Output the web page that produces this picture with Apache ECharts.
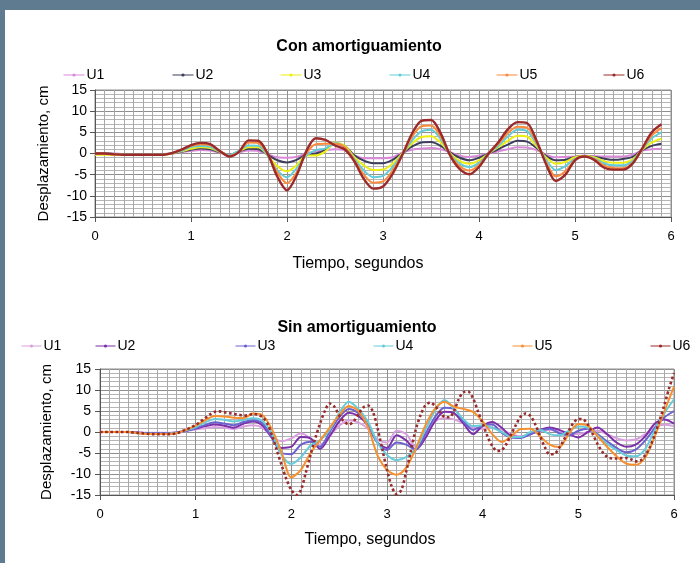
<!DOCTYPE html>
<html>
<head>
<meta charset="utf-8">
<script src="https://cdn.jsdelivr.net/npm/echarts@6/dist/echarts.min.js"></script>
<style>
html,body{margin:0;padding:0;background:#fff;}
#chart{width:700px;height:563px;}
</style>
</head>
<body>
<div id="chart"></div>
<script>
// ---- Data ----
const seriesNames = ['U1','U2','U3','U4','U5','U6'];
const yTicks = [-15,-10,-5,0,5,10,15];
const xTicks = [0,1,2,3,4,5,6];

// "Con amortiguamiento" (time step 0.1 s)
const timeCon = [0,0.1,0.2,0.3,0.4,0.5,0.6,0.7,0.8,0.9,1.0,1.1,1.2,1.3,1.4,1.5,1.6,1.7,1.8,1.9,2.0,2.1,2.2,2.3,2.4,2.5,2.6,2.7,2.8,2.9,3.0,3.1,3.2,3.3,3.4,3.5,3.6,3.7,3.8,3.9,4.0,4.1,4.2,4.3,4.4,4.5,4.6,4.7,4.8,4.9,5.0,5.1,5.2,5.3,5.4,5.5,5.6,5.7,5.8,5.9];
const conU1 = [0,0,0,-0.1,-0.1,-0.1,-0.1,-0.1,0.0,0.3, 0.6,0.8,0.7,0.2,-0.2,0.3,0.7,0.6,-0.2,-0.9, -1.0,-0.8,0.0,0.5,0.8,1.0,0.8,-0.4,-1.1,-1.1, -1.1,-0.9,0.2,0.9,1.2,1.3,1.0,0.3,-0.5,-0.8, -0.5,0.0,0.5,1.0,1.5,1.4,0.8,-0.3,-0.9,-0.8, -0.7,-0.5,-0.6,-0.7,-0.7,-0.7,-0.3,0.7,1.0,1.1];
const conU2 = [0,0,-0.1,-0.2,-0.2,-0.2,-0.2,-0.2,0.0,0.4, 0.9,1.2,1.0,0.3,-0.3,0.5,1.1,1.0,-0.3,-1.6, -2.1,-1.5,-0.3,0.0,0.8,2.4,1.8,-0.4,-1.7,-2.3, -2.3,-1.5,0.0,1.6,2.6,2.7,1.8,0.2,-1.0,-1.6, -1.0,0.0,1.0,2.1,3.0,2.8,1.3,-0.6,-1.6,-1.5, -0.8,-0.6,-0.8,-1.2,-1.5,-1.3,-0.8,0.8,1.8,2.3];
const conU3 = [-0.3,-0.3,-0.3,-0.3,-0.3,-0.3,-0.3,-0.3,0.0,0.5, 1.1,1.5,1.3,0.4,-0.4,0.5,1.5,1.5,-0.5,-3.0, -4.2,-2.8,-0.5,-0.5,0.5,2.6,1.8,-0.8,-2.8,-3.9, -3.8,-2.4,0.0,2.3,3.9,4.1,2.6,0.0,-1.8,-2.4, -1.6,0.0,1.5,3.0,4.2,4.0,1.7,-1.0,-2.4,-2.0, -0.9,-0.6,-0.9,-1.8,-2.2,-2.2,-1.4,0.9,2.6,3.5];
const conU4 = [0,0,-0.1,-0.2,-0.2,-0.2,-0.2,-0.2,0.1,0.6, 1.5,1.8,1.6,0.5,-0.4,0.7,1.9,1.8,-0.5,-4.0, -5.6,-3.5,-0.5,0.8,1.2,2.5,1.5,-1.2,-4.0,-5.6, -5.3,-3.2,-0.2,3.0,5.2,5.6,3.4,-0.2,-2.4,-3.2, -2.2,0.0,1.8,4.0,5.6,5.3,2.2,-1.5,-3.9,-3.0, -1.2,-0.7,-1.1,-2.3,-2.8,-2.8,-1.8,0.9,3.6,5.0];
const conU5 = [0,0,-0.2,-0.3,-0.3,-0.3,-0.3,-0.3,0.1,0.8, 1.8,2.2,2.0,0.6,-0.6,0.4,2.6,2.5,-0.2,-4.5, -7.0,-4.5,0.0,2.2,2.3,2.3,1.5,-1.5,-5.0,-6.9, -6.6,-4.0,-0.3,3.8,6.4,6.6,4.0,-0.3,-3.0,-4.0, -2.7,0.0,2.2,4.8,6.3,6.1,2.6,-2.1,-5.4,-4.2, -1.4,-0.7,-1.3,-2.8,-3.4,-3.5,-2.2,1.0,4.3,6.0];
const conU6 = [0,0,-0.2,-0.3,-0.3,-0.3,-0.3,-0.3,0.1,0.9, 2.0,2.5,2.2,0.6,-0.7,0.4,3.1,3.0,-0.1,-5.5, -8.7,-5.2,0.5,3.6,3.2,1.9,1.0,-1.8,-6.0,-8.3, -7.8,-4.8,-0.4,4.6,7.7,7.9,4.8,-0.5,-3.7,-4.9, -3.2,0.0,2.6,5.7,7.4,7.2,3.0,-2.6,-6.5,-5.0, -1.6,-0.7,-1.5,-3.3,-3.8,-3.8,-2.4,1.2,5.0,6.9];

// "Sin amortiguamiento" (U1-U5 step 0.1 s, U6 step 0.05 s)
const timeSin = [0,0.1,0.2,0.3,0.4,0.5,0.6,0.7,0.8,0.9,1.0,1.1,1.2,1.3,1.4,1.5,1.6,1.7,1.8,1.9,2.0,2.1,2.2,2.3,2.4,2.5,2.6,2.7,2.8,2.9,3.0,3.1,3.2,3.3,3.4,3.5,3.6,3.7,3.8,3.9,4.0,4.1,4.2,4.3,4.4,4.5,4.6,4.7,4.8,4.9,5.0,5.1,5.2,5.3,5.4,5.5,5.6,5.7,5.8,5.9,6.0];
const sinU1 = [0,0,0,0,-0.1,-0.2,-0.2,-0.2,-0.1,0.2, 0.6,0.9,1.2,1.0,0.7,1.3,1.6,1.0,-1.2,-2.2, -1.5,-0.3,-1.5,-3.0,-1.0,1.5,2.8,2.3,0.8,-1.8, -2.5,0.3,-0.5,-3.5,-1.0,2.5,3.3,3.0,2.0,1.0, 0.8,1.0,0.5,-0.5,-1.0,-0.5,0.3,0.5,0.0,-0.5, -0.5,0.0,0.3,-0.5,-1.5,-2.0,-1.8,-0.5,1.3,1.7, 1.4];
const sinU2 = [0,0,0,0,-0.2,-0.3,-0.3,-0.3,-0.1,0.3, 0.8,1.4,1.8,1.5,1.0,2.0,2.5,1.5,-1.5,-3.8, -3.5,-1.2,-1.5,-4.0,-1.0,2.5,4.6,3.8,1.5,-2.5, -3.8,-0.8,-2.0,-4.2,-1.5,2.5,4.8,4.5,2.0,-0.5, 1.5,2.4,1.0,-1.0,-1.2,-0.5,0.5,1.1,0.5,-0.5, -1.3,0.0,1.1,-0.5,-2.5,-3.5,-3.0,-1.0,2.0,3.0, 2.0];
const sinU3 = [0,0,0,0,-0.2,-0.3,-0.3,-0.3,-0.2,0.3, 0.9,1.7,2.3,2.0,1.6,2.4,2.8,2.0,-1.5,-5.0, -5.3,-3.0,-2.3,-3.5,0.0,3.5,5.5,4.5,1.8,-2.5, -4.3,-2.5,-3.0,-4.2,-0.5,3.5,5.8,5.5,2.5,0.5, 1.5,1.8,-0.2,-1.3,-1.4,-0.5,0.3,0.8,-0.3,-0.8, 0.3,0.8,-0.5,-2.2,-3.8,-4.8,-4.2,-2.0,1.0,3.5, 5.0];
const sinU4 = [0,0,0,0,-0.3,-0.4,-0.4,-0.4,-0.2,0.4, 1.2,2.3,3.1,2.9,2.5,2.9,3.3,2.6,-0.5,-5.5, -7.6,-6.0,-3.2,-2.0,0.5,4.5,7.2,5.5,2.5,-2.5, -5.5,-6.7,-6.0,-4.0,0.5,5.0,7.6,5.5,3.0,1.4, 1.6,1.0,0.0,-1.2,-1.2,0.0,0.5,-0.5,-0.8,0.3, 1.3,1.0,-0.8,-2.8,-4.3,-5.6,-5.8,-4.0,0.5,4.5, 7.8];
const sinU5 = [0,0,0,0,-0.3,-0.5,-0.5,-0.5,-0.3,0.5, 1.5,2.8,3.8,3.7,3.4,3.3,4.4,4.0,0.5,-5.0, -10.8,-9.0,-5.0,-2.0,1.0,4.0,6.2,5.0,1.2,-5.5, -9.0,-10.2,-8.5,-4.0,1.5,5.5,7.2,6.0,5.5,4.8, 2.5,-0.5,-2.4,-1.0,0.7,0.8,-1.0,-3.0,-3.6,-0.5, 1.9,1.5,-1.0,-3.5,-5.8,-7.5,-7.8,-6.0,-1.0,5.0, 10.8];
const timeSinFine = [0,0.05,0.1,0.15,0.2,0.25,0.3,0.35,0.4,0.45,0.5,0.55,0.6,0.65,0.7,0.75,0.8,0.85,0.9,0.95,1.0,1.05,1.1,1.15,1.2,1.25,1.3,1.35,1.4,1.45,1.5,1.55,1.6,1.65,1.7,1.75,1.8,1.85,1.9,1.95,2.0,2.05,2.1,2.15,2.2,2.25,2.3,2.35,2.4,2.45,2.5,2.55,2.6,2.65,2.7,2.75,2.8,2.85,2.9,2.95,3.0,3.05,3.1,3.15,3.2,3.25,3.3,3.35,3.4,3.45,3.5,3.55,3.6,3.65,3.7,3.75,3.8,3.85,3.9,3.95,4.0,4.05,4.1,4.15,4.2,4.25,4.3,4.35,4.4,4.45,4.5,4.55,4.6,4.65,4.7,4.75,4.8,4.85,4.9,4.95,5.0,5.05,5.1,5.15,5.2,5.25,5.3,5.35,5.4,5.45,5.5,5.55,5.6,5.65,5.7,5.75,5.8,5.85,5.9,5.95,6.0];
const sinU6 = [0,0,0,0,0,0,0,-0.1,-0.2,-0.3, -0.4,-0.5,-0.5,-0.5,-0.5,-0.5,-0.3,0.1,0.6,1.1, 1.7,2.5,3.3,4.2,4.8,4.9,4.7,4.5,4.3,4.1, 3.9,4.0,4.3,4.1,3.5,2.0,-1.0,-4.5,-8.0,-11.3, -13.8,-15.0,-13.8,-9.8,-5.5,-1.5,2.0,5.0,6.8,6.0, 4.0,2.5,1.8,2.5,4.2,5.8,6.3,5.0,1.0,-4.0, -9.0,-13.0,-14.8,-13.8,-9.5,-4.5,0.5,4.0,6.3,7.0, 6.3,4.8,3.6,3.5,5.0,7.8,9.5,9.6,8.0,5.0, 2.0,-1.0,-3.3,-4.5,-4.3,-2.8,-0.5,1.8,3.7,4.4, 3.8,1.8,-1.0,-3.6,-5.3,-5.2,-3.8,-1.8,0.3,2.2, 3.1,3.0,1.8,-0.5,-2.8,-4.7,-5.9,-6.3,-6.3,-6.2, -6.2,-6.5,-7.0,-6.8,-5.5,-3.5,-0.5,2.8,6.5,10.5, 14.0];

const colorsCon = ['#d98ad9','#3d3d5c','#eeee10','#62cdd8','#fb8a3c','#9b2a2a'];
const colorsSin = ['#d9a0e0','#7b2fa8','#6c62cf','#66ccd9','#f7902f','#9b2a2a'];

// ---- Build ----
function pairs(t, v){ return v.map((y,i)=>[t[i], y]); }

const conData = [conU1,conU2,conU3,conU4,conU5,conU6];
const sinData = [sinU1,sinU2,sinU3,sinU4,sinU5];

const FONT = '"Liberation Sans", Arial, sans-serif';
const series = [];
seriesNames.forEach((n,i)=>{
  series.push({
    name: n+'|con', type:'line', xAxisIndex:0, yAxisIndex:0,
    data: pairs(timeCon, conData[i]), smooth:0.3,
    symbol:'circle', symbolSize:3, showSymbol:false,
    lineStyle:{color:colorsCon[i], width: i===5?2.4:2}, itemStyle:{color:colorsCon[i]},
    z: 2+i
  });
});
seriesNames.forEach((n,i)=>{
  const isU6 = i===5;
  series.push({
    name: n+'|sin', type:'line', xAxisIndex:1, yAxisIndex:1,
    data: isU6 ? pairs(timeSinFine, sinU6) : pairs(timeSin, sinData[i]), smooth:0.3,
    symbol:'circle', symbolSize:3, showSymbol:false,
    lineStyle:{color:colorsSin[i], width: isU6?2.6:2, type: isU6?'dotted':'solid'}, itemStyle:{color:colorsSin[i]},
    z: 2+i
  });
});

const legendConLeft = [58,167,275,384,491,598];
const legendSinLeft = [16,90,230,368,507,645];
const legends = [];
seriesNames.forEach((n,i)=>{
  legends.push({data:[n+'|con'], left:legendConLeft[i], top:63, itemWidth:21, itemHeight:4, itemGap:3,
    formatter: s=>s.split('|')[0], textStyle:{fontFamily:FONT, fontSize:14, color:'#000', padding:[0,0,0,-3]}, selectedMode:false,
    lineStyle:{width:1}});
  legends.push({data:[n+'|sin'], left:legendSinLeft[i], top:334, itemWidth:20, itemHeight:4, itemGap:3,
    formatter: s=>s.split('|')[0], textStyle:{fontFamily:FONT, fontSize:14, color:'#000', padding:[0,0,0,-3]}, selectedMode:false,
    lineStyle:{width:1, type:'solid'}});
});

function xAxisCfg(idx, nameGap, padR){
  return {
    type:'value', gridIndex:idx, min:xTicks[0], max:xTicks[xTicks.length-1], interval:1,
    name:'Tiempo, segundos', nameLocation:'middle', nameGap:nameGap,
    nameTextStyle:{fontFamily:FONT, fontSize:16, color:'#000', padding:[0,padR,0,0]},
    axisLine:{onZero:false, lineStyle:{color:'#555', width:1}},
    axisTick:{show:true, length:5, lineStyle:{color:'#555'}},
    axisLabel:{fontFamily:FONT, fontSize:13, color:'#000', margin:13},
    splitLine:{show:true, lineStyle:{color:'#8f8f8f', width:1}},
    minorTick:{show:false, splitNumber:10},
    minorSplitLine:{show:true, lineStyle:{color:'#a8a8a8', width:1}}
  };
}
function yAxisCfg(idx, nameGap, margin){
  return {
    type:'value', gridIndex:idx, min:yTicks[0], max:yTicks[yTicks.length-1], interval:5,
    name:'Desplazamiento, cm', nameLocation:'middle', nameGap:nameGap, nameRotate:90,
    nameTextStyle:{fontFamily:FONT, fontSize:15, color:'#000'},
    axisLine:{show:true, lineStyle:{color:'#555', width:1}},
    axisTick:{show:true, length:5, lineStyle:{color:'#555'}},
    axisLabel:{fontFamily:FONT, fontSize:14, color:'#000', margin:margin},
    splitLine:{show:true, lineStyle:{color:'#8f8f8f', width:1}},
    minorTick:{show:false, splitNumber:5},
    minorSplitLine:{show:true, lineStyle:{color:'#b5b5b5', width:1}}
  };
}

const option = {
  animation:false,
  backgroundColor:'#ffffff',
  title:[
    {text:'Con amortiguamiento', left:354, top:42, textAlign:'center', textVerticalAlign:'middle',
     textStyle:{fontFamily:FONT, fontSize:16, fontWeight:'bold', color:'#000'}},
    {text:'Sin amortiguamiento', left:352, top:323, textAlign:'center', textVerticalAlign:'middle',
     textStyle:{fontFamily:FONT, fontSize:16, fontWeight:'bold', color:'#000'}}
  ],
  legend: legends,
  grid:[
    {left:95, top:90, width:576, height:127, show:true, borderColor:'#8f8f8f', borderWidth:1},
    {left:100, top:369, width:574, height:126, show:true, borderColor:'#8f8f8f', borderWidth:1}
  ],
  xAxis:[xAxisCfg(0, 39, 50), xAxisCfg(1, 37, 34)],
  yAxis:[yAxisCfg(0, 44, 8), yAxisCfg(1, 46, 9)],
  series: series,
  graphic:[
    {type:'rect', left:0, top:0, shape:{width:5, height:563}, style:{fill:'#5e7b8f'}, z:100},
    {type:'rect', left:0, top:0, shape:{width:700, height:10}, style:{fill:'#5e7b8f'}, z:100}
  ]
};

const chart = echarts.init(document.getElementById('chart'), null, {renderer:'canvas'});
chart.setOption(option);
</script>
</body>
</html>
